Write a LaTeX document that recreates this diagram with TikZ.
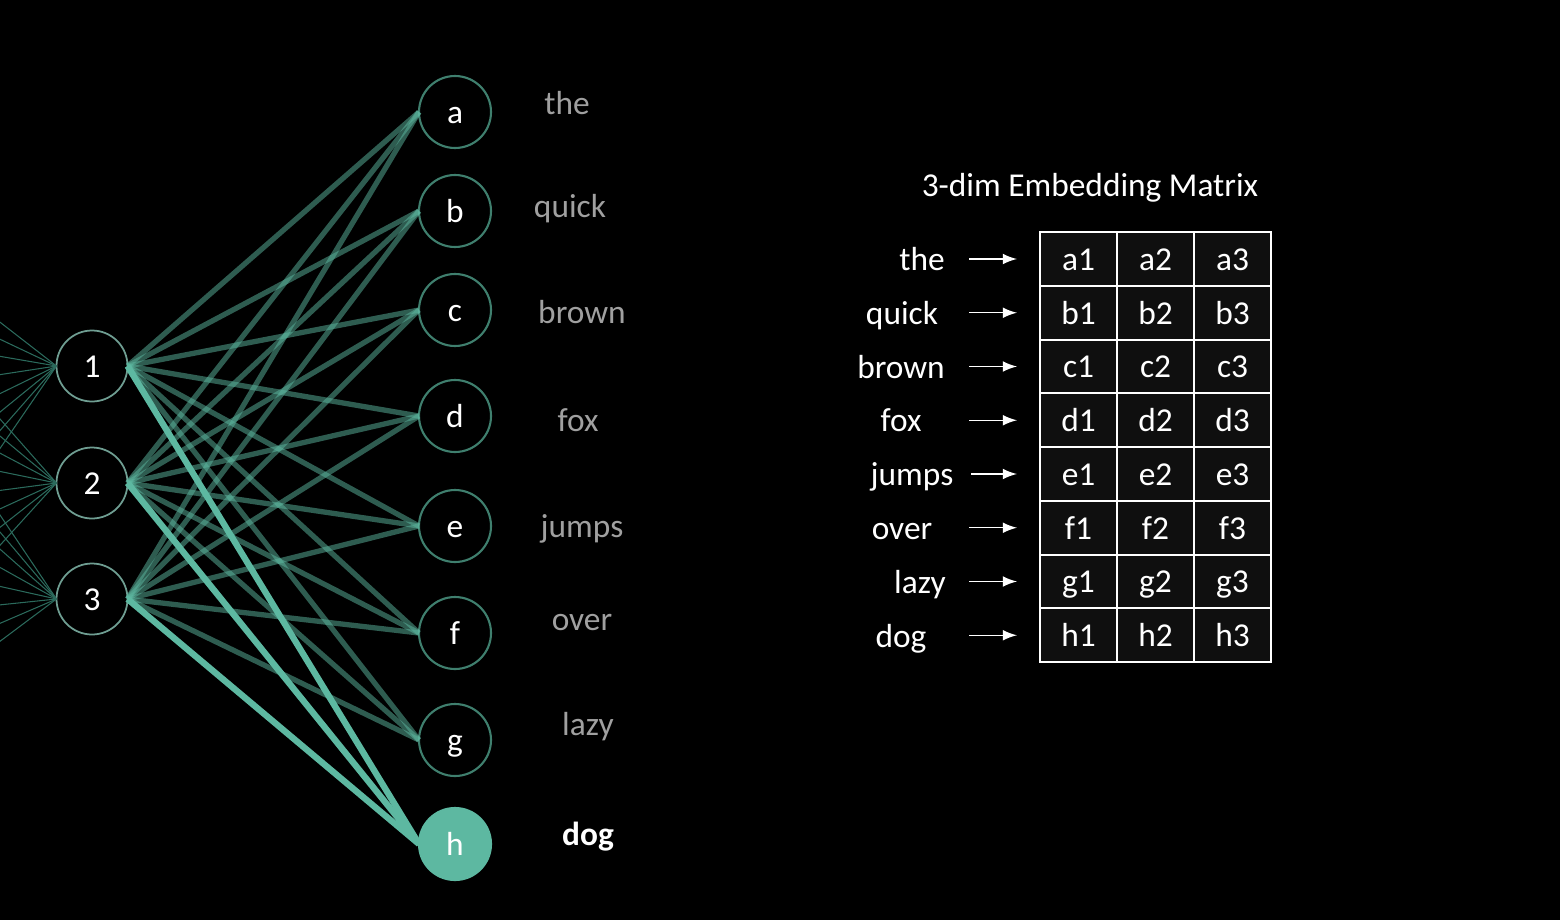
\documentclass[tikz,border=0pt]{standalone}
\usepackage{fontspec}
\setmainfont{Carlito}
\usepackage{tkz-graph}
\usetikzlibrary{arrows}
\usetikzlibrary{shapes}

\definecolor{edgeteal}{HTML}{5DB8A1}
\definecolor{ringteal}{HTML}{3F7F6E}
\definecolor{ringgrey}{HTML}{6F9E92}
\definecolor{inteal}{HTML}{2B6A5C}
\definecolor{wordgrey}{HTML}{A0A0A0}
\definecolor{cellfill}{HTML}{0F0F0F}

\begin{document}
\begin{tikzpicture}[font = \fontsize{9.5}{11}\selectfont]
\fill[black] (0,0) rectangle (15.6,9.2);
\useasboundingbox (0,0) rectangle (15.6,9.2);
\tikzstyle{VertexStyle}=[shape = circle, minimum size = 0.71cm, inner sep = 0pt,
draw = ringgrey, line width = 0.5pt, fill = black, text = white,
text height = 6.5pt, text depth = 0pt]
\Vertex[x = 0.92, y = 5.54, L = {1}]{v1}
\Vertex[x = 0.92, y = 4.37, L = {2}]{v2}
\Vertex[x = 0.92, y = 3.21, L = {3}]{v3}
\tikzstyle{VertexStyle}=[shape = circle, minimum size = 0.72cm, inner sep = 0pt,
draw = ringteal, line width = 0.6pt, fill = black, text = white,
text height = 6.5pt, text depth = 0pt]
\Vertex[x = 4.55, y = 8.08, L = {a}]{va}
\Vertex[x = 4.55, y = 7.09, L = {b}]{vb}
\Vertex[x = 4.55, y = 6.10, L = {c}]{vc}
\Vertex[x = 4.55, y = 5.04, L = {d}]{vd}
\Vertex[x = 4.55, y = 3.94, L = {e}]{ve}
\Vertex[x = 4.55, y = 2.87, L = {f}]{vf}
\Vertex[x = 4.55, y = 1.80, L = {g}]{vg}
\tikzstyle{VertexStyle}=[shape = circle, minimum size = 0.72cm, inner sep = 0pt,
draw = edgeteal, line width = 0.6pt, fill = edgeteal, text = white,
text height = 6.5pt, text depth = 0pt]
\Vertex[x = 4.55, y = 0.76, L = {h}]{vh}
% input side, off the page
\coordinate (i1) at (-2.71, 8.08);
\coordinate (i2) at (-2.71, 7.09);
\coordinate (i3) at (-2.71, 6.10);
\coordinate (i4) at (-2.71, 5.04);
\coordinate (i5) at (-2.71, 3.94);
\coordinate (i6) at (-2.71, 2.87);
\coordinate (i7) at (-2.71, 1.80);
\coordinate (i8) at (-2.71, 0.76);
\tikzstyle{EdgeStyle}=[draw = inteal, line width = 0.3pt]
\Edge[](i1)(v1.west)
\Edge[](i2)(v1.west)
\Edge[](i3)(v1.west)
\Edge[](i4)(v1.west)
\Edge[](i5)(v1.west)
\Edge[](i6)(v1.west)
\Edge[](i7)(v1.west)
\Edge[](i8)(v1.west)
\Edge[](i1)(v2.west)
\Edge[](i2)(v2.west)
\Edge[](i3)(v2.west)
\Edge[](i4)(v2.west)
\Edge[](i5)(v2.west)
\Edge[](i6)(v2.west)
\Edge[](i7)(v2.west)
\Edge[](i8)(v2.west)
\Edge[](i1)(v3.west)
\Edge[](i2)(v3.west)
\Edge[](i3)(v3.west)
\Edge[](i4)(v3.west)
\Edge[](i5)(v3.west)
\Edge[](i6)(v3.west)
\Edge[](i7)(v3.west)
\Edge[](i8)(v3.west)
\tikzstyle{EdgeStyle}=[draw = edgeteal, line width = 1.5pt, draw opacity = 0.5]
\Edge[](v1.east)(va.west)
\Edge[](v1.east)(vb.west)
\Edge[](v1.east)(vc.west)
\Edge[](v1.east)(vd.west)
\Edge[](v1.east)(ve.west)
\Edge[](v1.east)(vf.west)
\Edge[](v1.east)(vg.west)
\Edge[](v2.east)(va.west)
\Edge[](v2.east)(vb.west)
\Edge[](v2.east)(vc.west)
\Edge[](v2.east)(vd.west)
\Edge[](v2.east)(ve.west)
\Edge[](v2.east)(vf.west)
\Edge[](v2.east)(vg.west)
\Edge[](v3.east)(va.west)
\Edge[](v3.east)(vb.west)
\Edge[](v3.east)(vc.west)
\Edge[](v3.east)(vd.west)
\Edge[](v3.east)(ve.west)
\Edge[](v3.east)(vf.west)
\Edge[](v3.east)(vg.west)
\tikzstyle{EdgeStyle}=[draw = edgeteal, line width = 1.8pt]
\Edge[](v1.east)(vh.west)
\Edge[](v2.east)(vh.west)
\Edge[](v3.east)(vh.west)
% words next to the output layer
\tikzstyle{WordStyle}=[anchor = base, text = wordgrey, inner sep = 0pt]
\node[WordStyle] (wa) at (5.67, 8.06) {the};
\node[WordStyle] (wb) at (5.70, 7.03) {quick};
\node[WordStyle] (wc) at (5.82, 5.97) {brown};
\node[WordStyle] (wd) at (5.78, 4.89) {fox};
\node[WordStyle] (we) at (5.82, 3.83) {jumps};
\node[WordStyle] (wf) at (5.82, 2.90) {over};
\node[WordStyle] (wg) at (5.88, 1.85) {lazy};
\node[WordStyle, text = white, font = \fontsize{9.5}{11}\selectfont\bfseries] (wh) at (5.88, 0.75) {dog};
% embedding matrix
\node[anchor = base, text = white, inner sep = 0pt] (title) at (10.90, 7.24) {3-dim Embedding Matrix};
\tikzstyle{RowStyle}=[anchor = base, text = white, inner sep = 0pt]
\node[RowStyle] (ra) at (9.22, 6.50) {the};
\node[RowStyle] (rb) at (9.02, 5.96) {quick};
\node[RowStyle] (rc) at (9.01, 5.42) {brown};
\node[RowStyle] (rd) at (9.01, 4.89) {fox};
\node[RowStyle] (re) at (9.12, 4.35) {jumps};
\node[RowStyle] (rf) at (9.02, 3.81) {over};
\node[RowStyle] (rg) at (9.20, 3.27) {lazy};
\node[RowStyle] (rh) at (9.01, 2.73) {dog};
\tikzstyle{CellStyle}=[draw = white, line width = 0.6pt, fill = cellfill, text = white,
minimum width = 0.77cm, minimum height = 0.5375cm, inner sep = 0pt,
text height = 7pt, text depth = 0.5pt]
\node[CellStyle] (ma1) at (10.785, 6.61) {a1};
\node[CellStyle] (ma2) at (11.555, 6.61) {a2};
\node[CellStyle] (ma3) at (12.325, 6.61) {a3};
\node[CellStyle] (mb1) at (10.785, 6.0725) {b1};
\node[CellStyle] (mb2) at (11.555, 6.0725) {b2};
\node[CellStyle] (mb3) at (12.325, 6.0725) {b3};
\node[CellStyle] (mc1) at (10.785, 5.535) {c1};
\node[CellStyle] (mc2) at (11.555, 5.535) {c2};
\node[CellStyle] (mc3) at (12.325, 5.535) {c3};
\node[CellStyle] (md1) at (10.785, 4.9975) {d1};
\node[CellStyle] (md2) at (11.555, 4.9975) {d2};
\node[CellStyle] (md3) at (12.325, 4.9975) {d3};
\node[CellStyle] (me1) at (10.785, 4.46) {e1};
\node[CellStyle] (me2) at (11.555, 4.46) {e2};
\node[CellStyle] (me3) at (12.325, 4.46) {e3};
\node[CellStyle] (mf1) at (10.785, 3.9225) {f1};
\node[CellStyle] (mf2) at (11.555, 3.9225) {f2};
\node[CellStyle] (mf3) at (12.325, 3.9225) {f3};
\node[CellStyle] (mg1) at (10.785, 3.385) {g1};
\node[CellStyle] (mg2) at (11.555, 3.385) {g2};
\node[CellStyle] (mg3) at (12.325, 3.385) {g3};
\node[CellStyle] (mh1) at (10.785, 2.8475) {h1};
\node[CellStyle] (mh2) at (11.555, 2.8475) {h2};
\node[CellStyle] (mh3) at (12.325, 2.8475) {h3};
% arrows from the words into the rows
\coordinate (ta) at (9.69, 6.61);
\coordinate (tb) at (9.69, 6.0725);
\coordinate (tc) at (9.69, 5.535);
\coordinate (td) at (9.69, 4.9975);
\coordinate (te) at (9.71, 4.46);
\coordinate (tf) at (9.69, 3.9225);
\coordinate (tg) at (9.69, 3.385);
\coordinate (th) at (9.69, 2.8475);
\tikzstyle{RowArrow}=[draw = white, line width = 0.4pt, -latex, shorten > = 0.22cm]
\draw[RowArrow] (ta) -- (ma1);
\draw[RowArrow] (tb) -- (mb1);
\draw[RowArrow] (tc) -- (mc1);
\draw[RowArrow] (td) -- (md1);
\draw[RowArrow] (te) -- (me1);
\draw[RowArrow] (tf) -- (mf1);
\draw[RowArrow] (tg) -- (mg1);
\draw[RowArrow] (th) -- (mh1);
\end{tikzpicture}
\end{document}
